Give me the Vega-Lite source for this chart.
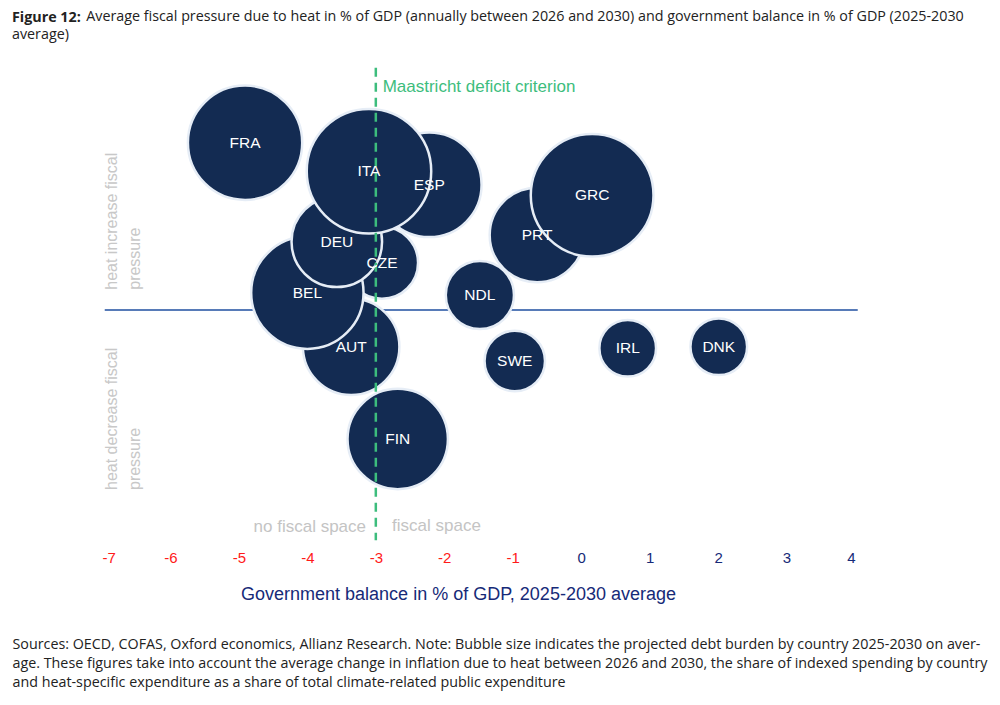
{
  "$schema": "https://vega.github.io/schema/vega-lite/v6.json",
  "width": 753,
  "height": 450,
  "autosize": {"type": "none"},
  "padding": {"left": 102, "top": 85, "right": 145, "bottom": 170},
  "background": "white",
  "config": {"view": {"stroke": null}},
  "title": {
    "text": ["\u200b\u00a0\u00a0\u00a0\u00a0\u00a0\u00a0\u00a0\u00a0\u00a0\u00a0\u00a0\u00a0\u00a0\u00a0\u00a0\u00a0\u00a0\u00a0\u00a0\u00a0Average fiscal pressure due to heat in % of GDP (annually between 2026 and 2030) and government balance in % of GDP (2025-2030", "average)"],
    "subtitle": "Figure 12:",
    "anchor": "start",
    "frame": "group",
    "dx": -90,
    "offset": 24,
    "font": "Open Sans",
    "fontSize": 14.3,
    "fontWeight": "normal",
    "color": "#222222",
    "lineHeight": 18,
    "subtitleFont": "Open Sans",
    "subtitleFontSize": 14.3,
    "subtitleFontWeight": "bold",
    "subtitleColor": "#222222",
    "subtitlePadding": -31
  },
  "datasets": {
    "bubbles": [
      {"country": "ESP", "balance": -2.22, "pressure": 1.67, "debt": 99},
      {"country": "CZE", "balance": -2.91, "pressure": 0.63, "debt": 47},
      {"country": "AUT", "balance": -3.36, "pressure": -0.49, "debt": 84},
      {"country": "BEL", "balance": -4.0, "pressure": 0.23, "debt": 114},
      {"country": "DEU", "balance": -3.57, "pressure": 0.91, "debt": 74},
      {"country": "ITA", "balance": -3.1, "pressure": 1.85, "debt": 140},
      {"country": "FRA", "balance": -4.91, "pressure": 2.23, "debt": 118},
      {"country": "PRT", "balance": -0.645, "pressure": 1.0, "debt": 81},
      {"country": "GRC", "balance": 0.16, "pressure": 1.53, "debt": 136},
      {"country": "NDL", "balance": -1.48, "pressure": 0.2, "debt": 42},
      {"country": "SWE", "balance": -0.97, "pressure": -0.68, "debt": 33},
      {"country": "IRL", "balance": 0.68, "pressure": -0.51, "debt": 29},
      {"country": "DNK", "balance": 2.01, "pressure": -0.49, "debt": 29},
      {"country": "FIN", "balance": -2.68, "pressure": -1.72, "debt": 91}
    ]
  },
  "resolve": {"axis": {"x": "independent"}},
  "layer": [
    {
      "data": {"values": [{"x": -6.96, "x2": 4.04, "y": 0}]},
      "mark": {"type": "rule", "color": "#1f4fa0", "strokeWidth": 1.5},
      "encoding": {
        "x": {"field": "x", "type": "quantitative", "scale": {"domain": [-7, 4], "nice": false, "zero": false},
          "axis": {"orient": "bottom", "labels": false, "ticks": false, "domain": false, "grid": false,
            "title": ["Sources: OECD, COFAS, Oxford economics, Allianz Research. Note: Bubble size indicates the projected debt burden by country 2025-2030 on aver-", "age. These figures take into account the average change in inflation due to heat between 2026 and 2030, the share of indexed spending by country", "and heat-specific expenditure as a share of total climate-related public expenditure"],
            "titleX": -90, "titleY": 102, "titleAlign": "left", "titleAnchor": "start", "titleBaseline": "top", "titleAngle": 0,
            "titleFont": "Open Sans", "titleFontSize": 14.3, "titleFontWeight": "normal", "titleColor": "#222222", "titleLineHeight": 19}},
        "x2": {"field": "x2"},
        "y": {"field": "y", "type": "quantitative", "scale": {"domain": [-3, 3], "nice": false, "zero": false}, "axis": null}
      }
    },
    {
      "data": {"name": "bubbles"},
      "mark": {"type": "circle", "color": "#132b52", "opacity": 1, "stroke": "#e6edf6", "strokeWidth": 2.5},
      "encoding": {
        "x": {"field": "balance", "type": "quantitative", "scale": {"domain": [-7, 4], "nice": false, "zero": false},
          "axis": {"orient": "bottom", "values": [-7, -6, -5, -4, -3, -2, -1, 0, 1, 2, 3, 4], "labelExpr": "'' + datum.value", "ticks": false, "domain": false, "grid": false,
            "labelFont": "Liberation Sans", "labelFontSize": 15, "labelPadding": 15,
            "labelColor": {"condition": {"test": "datum.value < 0", "value": "#ff1a1a"}, "value": "#162a78"},
            "title": "Government balance in % of GDP, 2025-2030 average",
            "titleX": 356, "titleY": 59, "titleAlign": "center", "titleBaseline": "middle", "titleAngle": 0,
            "titleFont": "Liberation Sans", "titleFontSize": 18, "titleFontWeight": "normal", "titleColor": "#162a78"}},
        "y": {"field": "pressure", "type": "quantitative", "scale": {"domain": [-3, 3], "nice": false, "zero": false},
          "axis": {"values": [-3, -2, -1, 0, 1, 2, 3], "labelExpr": "datum.value + '%'", "ticks": false, "domain": false, "grid": false,
            "labelFont": "Liberation Sans", "labelFontSize": 15, "labelPadding": 11,
            "labelColor": {"condition": {"test": "datum.value < 0", "value": "#ff1a1a"}, "value": "#162a78"},
            "title": "Additional fiscal pressure, upper bound",
            "titleX": -57, "titleY": 225, "titleAngle": 270, "titleAlign": "center", "titleBaseline": "middle",
            "titleFont": "Liberation Sans", "titleFontSize": 18, "titleFontWeight": "normal", "titleColor": "#162a78"}},
        "size": {"field": "debt", "type": "quantitative", "scale": {"domain": [0, 140], "range": [0, 15500]}, "legend": null}
      }
    },
    {
      "data": {"values": [{"x": -3, "y": 3.23, "y2": -3.07}]},
      "mark": {"type": "rule", "color": "#3dbd7d", "strokeWidth": 2.5, "strokeDash": [9, 6]},
      "encoding": {
        "x": {"field": "x", "type": "quantitative", "scale": {"domain": [-7, 4], "nice": false, "zero": false}, "axis": null},
        "y": {"field": "y", "type": "quantitative", "scale": {"domain": [-3, 3], "nice": false, "zero": false}, "axis": null},
        "y2": {"field": "y2"}
      }
    },
    {
      "data": {"name": "bubbles"},
      "mark": {"type": "text", "color": "white", "font": "Liberation Sans", "fontSize": 15.5, "align": "center", "baseline": "middle"},
      "encoding": {
        "x": {"field": "balance", "type": "quantitative", "scale": {"domain": [-7, 4], "nice": false, "zero": false}, "axis": null},
        "y": {"field": "pressure", "type": "quantitative", "scale": {"domain": [-3, 3], "nice": false, "zero": false}, "axis": null},
        "text": {"field": "country"}
      }
    },
    {
      "data": {"values": [
        {"label": "Maastricht deficit criterion", "x": -2.9, "y": 2.97, "kind": "green"},
        {"label": "fiscal space", "x": -2.763, "y": -2.88, "kind": "gray"}
      ]},
      "mark": {"type": "text", "font": "Liberation Sans", "fontSize": 17, "align": "left", "baseline": "middle"},
      "encoding": {
        "x": {"field": "x", "type": "quantitative", "scale": {"domain": [-7, 4], "nice": false, "zero": false}, "axis": null},
        "y": {"field": "y", "type": "quantitative", "scale": {"domain": [-3, 3], "nice": false, "zero": false}, "axis": null},
        "text": {"field": "label"},
        "color": {"field": "kind", "type": "nominal", "scale": {"domain": ["green", "gray"], "range": ["#3dbd7d", "#c4c4c4"]}, "legend": null}
      }
    },
    {
      "data": {"values": [
        {"label": "no fiscal space", "x": -3.143, "y": -2.89}
      ]},
      "mark": {"type": "text", "font": "Liberation Sans", "fontSize": 17, "align": "right", "baseline": "middle", "color": "#c4c4c4"},
      "encoding": {
        "x": {"field": "x", "type": "quantitative", "scale": {"domain": [-7, 4], "nice": false, "zero": false}, "axis": null},
        "y": {"field": "y", "type": "quantitative", "scale": {"domain": [-3, 3], "nice": false, "zero": false}, "axis": null},
        "text": {"field": "label"}
      }
    },
    {
      "data": {"values": [
        {"lines": ["heat  increase fiscal", "pressure"], "x": -6.97, "y": 0.27},
        {"lines": ["heat decrease fiscal", "pressure"], "x": -6.97, "y": -2.4}
      ]},
      "mark": {"type": "text", "font": "Liberation Sans", "fontSize": 16, "angle": 270, "align": "left", "baseline": "top", "lineHeight": 23, "color": "#c8c8c8"},
      "encoding": {
        "x": {"field": "x", "type": "quantitative", "scale": {"domain": [-7, 4], "nice": false, "zero": false}, "axis": null},
        "y": {"field": "y", "type": "quantitative", "scale": {"domain": [-3, 3], "nice": false, "zero": false}, "axis": null},
        "text": {"field": "lines"}
      }
    }
  ]
}
